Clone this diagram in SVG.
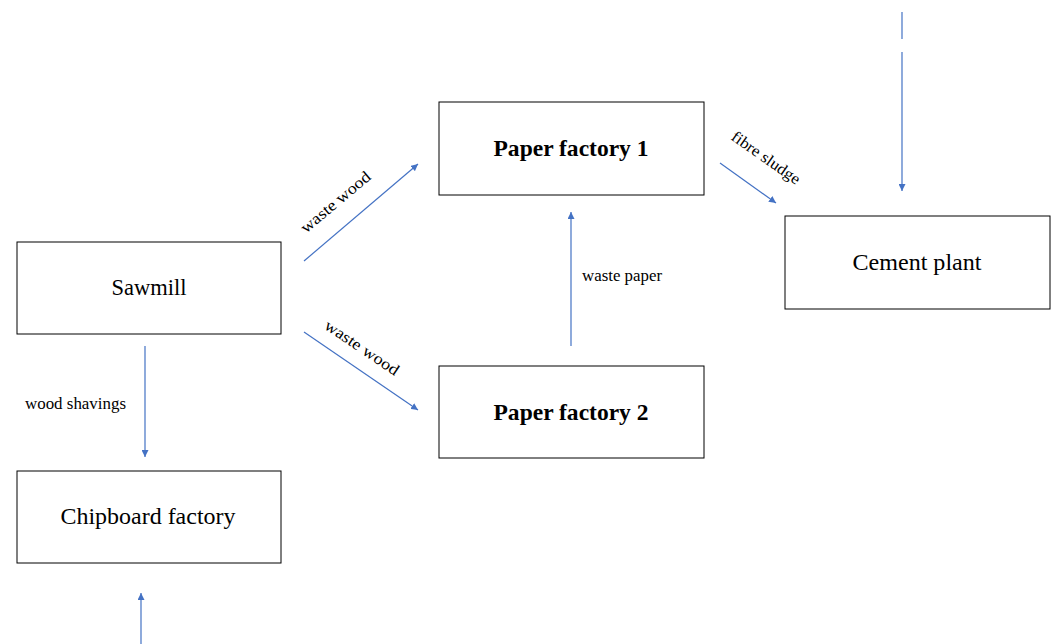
<svg xmlns="http://www.w3.org/2000/svg" width="1056" height="644" viewBox="0 0 1056 644">
<style>
.box{fill:#fff;stroke:#000;stroke-width:1}
.t{font-family:"Liberation Serif",serif;font-size:23px;fill:#000;text-anchor:middle}
.b{font-weight:bold}
.l{font-family:"Liberation Serif",serif;font-size:16px;fill:#000}
.c{stroke:#4472C4;stroke-width:1.2;fill:none}
</style>
<defs>
<marker id="ah" viewBox="0 0 10 10" refX="10" refY="5" markerWidth="7" markerHeight="7" markerUnits="userSpaceOnUse" orient="auto">
<path d="M0,0 L10,5 L0,10 z" fill="#4472C4"/>
</marker>
</defs>
<rect width="1056" height="644" fill="#fff"/>
<g id="sawmill"><rect class="box" x="17" y="242" width="264" height="92"/><text class="t" x="149" y="295" textLength="75" lengthAdjust="spacingAndGlyphs">Sawmill</text></g>
<g id="chipboard"><rect class="box" x="17" y="471" width="264" height="92"/><text class="t" x="148" y="524" textLength="175" lengthAdjust="spacingAndGlyphs">Chipboard factory</text></g>
<g id="paper1"><rect class="box" x="439" y="102" width="265" height="93"/><text class="t b" x="571" y="156" textLength="155" lengthAdjust="spacingAndGlyphs">Paper factory 1</text></g>
<g id="paper2"><rect class="box" x="439" y="366" width="265" height="92"/><text class="t b" x="571" y="420" textLength="155" lengthAdjust="spacingAndGlyphs">Paper factory 2</text></g>
<g id="cement"><rect class="box" x="785" y="216" width="265" height="93"/><text class="t" x="917" y="270" textLength="129" lengthAdjust="spacingAndGlyphs">Cement plant</text></g>
<g id="connectors">
<line class="c" x1="902" y1="12" x2="902" y2="39"/>
<line class="c" x1="902" y1="52" x2="902" y2="191" marker-end="url(#ah)"/>
<line class="c" x1="304" y1="261" x2="418" y2="164" marker-end="url(#ah)"/>
<line class="c" x1="304" y1="332" x2="418" y2="410" marker-end="url(#ah)"/>
<line class="c" x1="720" y1="163" x2="776" y2="203" marker-end="url(#ah)"/>
<line class="c" x1="571" y1="346" x2="571" y2="212" marker-end="url(#ah)"/>
<line class="c" x1="145" y1="346" x2="145" y2="457" marker-end="url(#ah)"/>
<line class="c" x1="141" y1="644" x2="141" y2="593" marker-end="url(#ah)"/>
<text class="l" text-anchor="middle" transform="translate(339,206) rotate(-40)" textLength="86" lengthAdjust="spacingAndGlyphs">waste wood</text>
<text class="l" text-anchor="middle" transform="translate(359,352) rotate(34)" textLength="86" lengthAdjust="spacingAndGlyphs">waste wood</text>
<text class="l" text-anchor="middle" transform="translate(763,162) rotate(35)" textLength="80" lengthAdjust="spacingAndGlyphs">fibre sludge</text>
<text class="l" x="582" y="281" textLength="80" lengthAdjust="spacingAndGlyphs">waste paper</text>
<text class="l" x="25" y="409" textLength="101" lengthAdjust="spacingAndGlyphs">wood shavings</text>
</g>
</svg>
